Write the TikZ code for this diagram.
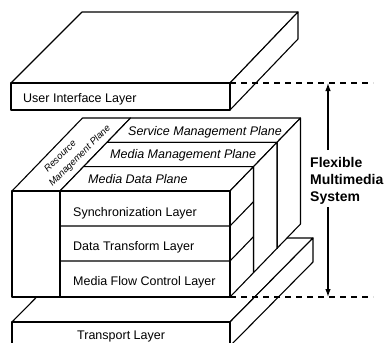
\documentclass[tikz,border=0pt]{standalone}
\usepackage{fontspec}
\setmainfont{Liberation Sans}
\usetikzlibrary{arrows.meta}
\begin{document}
\begin{tikzpicture}[x=1pt,y=-1pt,line join=round,
  face/.style={draw=black,line width=1.1pt,fill=white},
  thin/.style={draw=black,line width=1.1pt},
  lbl/.style={font=\fontsize{12.5}{14}\selectfont,inner sep=0pt,anchor=base west},
  plbl/.style={font=\fontsize{12.5}{14}\selectfont\itshape,inner sep=0pt,anchor=base west},
  rlbl/.style={font=\fontsize{9.5}{11}\selectfont\itshape,inner sep=0pt,rotate=45},
  sysl/.style={font=\fontsize{14}{17}\selectfont\bfseries,inner sep=0pt,anchor=base west},
  guide/.style={line width=1.4pt,dash pattern=on 6pt off 5pt},
  span/.style={line width=1.2pt}]
\fill[white] (0,0) rectangle (389,343);
\useasboundingbox (0,0) rectangle (389,343);
\clip (0,0) rectangle (389,343);

% ---- Transport layer slab (bottom) ----
\path[face] (12,322) -- (95,238) -- (313,238) -- (230,322) -- cycle;
\path[face] (230,322) -- (313,238) -- (313,262) -- (230,346) -- cycle;
\path[face] (12,322) rectangle (230,346);
\node[lbl] (transport) at (77,339) {Transport Layer};

% ---- Resource management plane (left, full depth) ----
\path[face] (12,191) -- (82.5,118) -- (130.5,118) -- (60,191) -- cycle;
\path[face] (12,191) rectangle (60,297);

% ---- Stacked planes, drawn back to front ----
\foreach \k in {2,1,0}{
  \pgfmathsetmacro{\dx}{23.5*\k}
  \pgfmathsetmacro{\dy}{24.33*\k}
  % top face
  \path[face] (60+\dx,191-\dy) -- (83.5+\dx,166.67-\dy) -- (253.5+\dx,166.67-\dy) -- (230+\dx,191-\dy) -- cycle;
  % right face
  \path[face] (230+\dx,191-\dy) -- (253.5+\dx,166.67-\dy) -- (253.5+\dx,272.67-\dy) -- (230+\dx,297-\dy) -- cycle;
  % front face
  \path[face] (60+\dx,191-\dy) rectangle (230+\dx,297-\dy);
}

% layer boundaries on the front plane
\draw[thin] (60,226) -- (230,226) -- (253.5,201.67);
\draw[thin] (60,261) -- (230,261) -- (253.5,236.67);

\node[plbl] (svc) at (128,135) {Service Management Plane};
\node[plbl] (mmp) at (110,158) {Media Management Plane};
\node[plbl] (mdp) at (88,183) {Media Data Plane};

\node[lbl] (sync) at (73,216) {Synchronization Layer};
\node[lbl] (dtl) at (73,250) {Data Transform Layer};
\node[lbl] (mfc) at (73,285) {Media Flow Control Layer};

\node[rlbl] (res1) at (60,156) {Resource};
\node[rlbl] (res2) at (80,156) {Management Plane};

% ---- User interface layer slab (top) ----
\path[face] (11,83) -- (82,12) -- (298,12) -- (230,83) -- cycle;
\path[face] (230,83) -- (298,12) -- (298,39) -- (230,110) -- cycle;
\path[face] (11,83) rectangle (230,110);
\node[lbl] (ui) at (23,102) {User Interface Layer};

% ---- Extent of the flexible multimedia system ----
\coordinate (ftop) at (230,83);
\coordinate (fbot) at (230,297);
\coordinate (gtop) at (373,83);
\coordinate (gbot) at (373,297);
\draw[guide] (ftop) -- (gtop);
\draw[guide] (fbot) -- (gbot);

\node[sysl] (fx1) at (310,167) {Flexible};
\node[sysl] (fx2) at (310,184) {Multimedia};
\node[sysl] (fx3) at (310,201) {System};

\coordinate (atop) at (328,83);
\coordinate (abot) at (328,297);
\coordinate (amid1) at (328,150);
\coordinate (amid2) at (328,207);
\draw[span,-{Latex[length=8pt,width=5.5pt]}] (amid1) -- (atop);
\draw[span,-{Latex[length=8pt,width=5.5pt]}] (amid2) -- (abot);
\end{tikzpicture}
\end{document}
